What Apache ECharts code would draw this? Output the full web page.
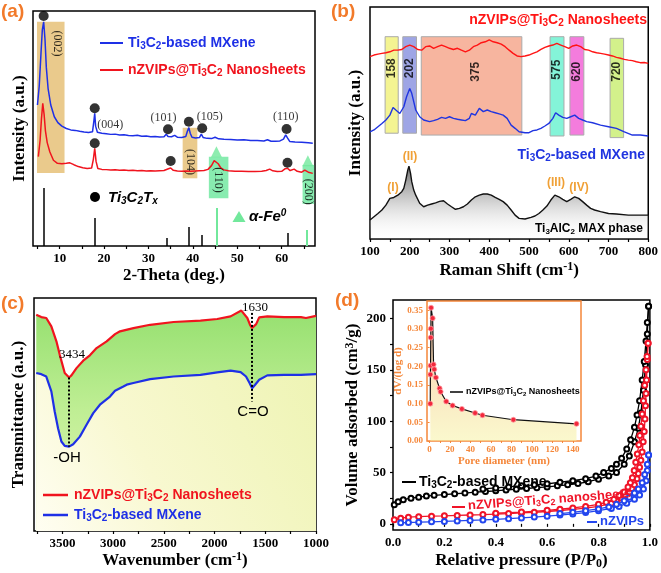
<!DOCTYPE html>
<html><head><meta charset="utf-8">
<script src="https://cdn.jsdelivr.net/npm/echarts/dist/echarts.min.js"></script>
<style>html,body{margin:0;padding:0;background:#fff}#c{width:661px;height:573px}</style>
</head><body><div id="c"></div>
<script>
// ---------------- DATA ----------------
// (a) XRD
const xrdMxene=[[5.0,60],[5.4,68],[5.8,82],[6.1,92],[6.4,95.4],[6.7,88],[7.0,76],[7.4,67],[8.0,60],[8.8,55],[9.6,52.5],[10.5,51],[11.5,50],[12.5,49.4],[13.5,49.2],[14.5,48.8],[15.5,48.5],[16.5,48.3],[17.4,48.6],[17.7,53],[17.9,56.5],[18.1,51],[18.5,48.4],[19.5,48],[20.5,47.8],[21.5,47.5],[22.5,47.6],[23.5,47.2],[24.5,47.3],[25.5,47],[26.5,46.9],[27.5,47.1],[28.5,46.7],[29.5,46.8],[30.5,46.5],[31.5,46.6],[32.5,46.4],[33.5,46.5],[34.0,47.6],[34.4,46.6],[35.2,46.5],[35.9,47.1],[36.5,46.3],[37.5,46.2],[38.4,46.6],[38.8,49],[39.1,50.4],[39.4,48],[39.8,46.3],[40.6,46],[41.5,46.2],[41.9,47.6],[42.3,46.2],[43.2,45.8],[44.2,45.7],[45.0,46.3],[45.8,45.6],[47,45.4],[48.5,45.3],[50,45.1],[51.5,45.2],[53,44.9],[54.5,44.9],[56,44.7],[56.8,45.2],[57.6,44.6],[58.6,44.6],[59.6,44.7],[60.4,45.5],[60.9,47.3],[61.3,46],[61.8,44.5],[63,44.3],[64.5,44.1],[66,43.9],[67,43.7]];
const xrdNano=[[5.2,38],[5.6,45],[5.9,54],[6.2,60.7],[6.5,56],[6.8,49],[7.2,44],[7.8,40],[8.6,36.5],[9.5,35.2],[10.5,35],[11.5,35.2],[12.3,35.4],[13.2,34.6],[14.2,33.8],[15.2,33.3],[16.2,33],[17.2,33.2],[17.6,37],[17.9,41.6],[18.2,36],[18.6,33],[19.5,32.6],[20.5,32.5],[21.5,32.3],[22.5,32.4],[23.5,32.2],[24.5,32.3],[25.5,32.1],[26.5,32.2],[27.5,32],[28.5,32.1],[29.5,31.9],[30.5,32],[31.5,31.9],[32.5,32],[33.5,32.1],[34.5,32.9],[35.0,33.2],[35.6,32.2],[36.5,31.9],[37.5,31.8],[38.5,31.9],[39.5,31.8],[40.5,31.9],[41.5,32],[42.5,32.1],[43.4,32.6],[44.2,34.2],[44.8,36.3],[45.2,36.6],[45.7,35],[46.3,33.2],[47,32.4],[48,32],[49.5,31.8],[51,31.8],[52.5,31.7],[54,31.7],[55.5,31.8],[56.5,32.1],[57.3,32.7],[58,32],[59,31.7],[60,31.8],[60.8,32.9],[61.3,33.1],[61.9,32.1],[62.8,32.7],[63.5,31.8],[64.5,31.4],[65.2,32.3],[65.6,33],[66,31.4],[67,30.9]];
const refTi3C2=[[6.5,24.7],[17.9,11.9],[34.2,3.4],[39.0,8.1],[42.0,4.7],[61.3,5.5]];
const refFe=[[45.3,16.2],[65.7,6.8]];
const ti3c2Markers=[[6.4,97.9],[17.9,58.6],[34.4,49.7],[39.1,52.9],[42.1,50.1],[61.1,49.8],[17.9,43.7],[35.0,36.2],[61.3,35.4]];
const feMarkers=[[45.3,40.1],[65.9,36.3]];
const xrdTanBoxes=[[4.9,11.1,31.1,95.4],[37.7,41.0,28.8,50.3]];
const xrdGreenBoxes=[[43.6,48.0,20.3,38.0],[64.7,67.3,17.9,34.5]];
const xrdLabelsH=[[21.4,51.5,'(004)'],[33.4,54.5,'(101)'],[43.8,54.9,'(105)'],[60.9,54.9,'(110)']];
const xrdLabelsV=[[9.4,86.2,'(002)'],[39.3,35.7,'(104)'],[45.7,28.1,'(110)'],[65.9,23.1,'(200)']];
const xrdTicks=[5,10,15,20,25,30,35,40,45,50,55,60,65];
const xrdTickLabels=[10,20,30,40,50,60];

// (b) Raman
const ramanNano=[[100,78.6],[110,79.3],[120,79.7],[130,80.0],[140,80.3],[150,80.7],[160,81.4],[170,81.4],[180,81.7],[190,82.9],[200,83.6],[210,82.9],[220,81.7],[230,81.4],[240,82.9],[250,83.2],[260,82.2],[270,82.9],[280,83.6],[290,82.9],[300,82.2],[310,81.7],[320,82.2],[330,81.4],[340,80.7],[350,81.4],[360,82.9],[370,83.6],[380,84.6],[390,85.0],[400,85.8],[410,85.0],[420,84.6],[430,84.0],[440,82.9],[450,81.4],[460,80.0],[470,78.9],[480,78.6],[490,78.9],[500,79.3],[510,80.0],[520,80.7],[530,81.7],[540,82.6],[550,83.2],[560,83.6],[570,84.3],[580,83.6],[590,82.9],[600,82.2],[610,83.2],[620,83.6],[630,82.9],[640,81.7],[650,81.4],[660,80.7],[670,80.3],[680,80.0],[690,79.7],[700,79.3],[710,78.9],[720,78.3],[730,77.9],[740,77.4],[750,77.1],[760,76.9],[770,76.4],[780,76.0],[790,76.1],[800,75.7]];
const ramanMxene=[[100,46.2],[110,47.0],[120,48.4],[130,49.8],[140,51.3],[150,53.4],[158,56.7],[165,55.6],[175,54.1],[185,57.0],[192,61.3],[200,64.9],[205,62.8],[210,59.2],[215,55.6],[225,52.7],[235,51.3],[250,50.6],[260,51.0],[270,51.6],[280,52.4],[290,52.0],[300,52.7],[310,52.0],[320,51.6],[330,51.3],[340,51.0],[350,52.0],[355,54.1],[365,53.4],[375,56.3],[385,54.9],[395,55.6],[405,54.9],[415,54.4],[425,53.9],[435,53.4],[445,52.0],[455,49.1],[465,47.7],[475,46.2],[490,45.8],[500,45.8],[510,46.7],[520,47.0],[530,47.7],[540,48.7],[550,49.8],[560,52.0],[567,54.4],[575,53.4],[585,52.4],[595,52.0],[605,52.7],[615,53.4],[625,52.0],[635,51.3],[645,50.6],[660,50.1],[680,49.1],[700,48.4],[720,47.7],[740,46.2],[760,44.8],[780,44.8],[800,44.4]];
const ramanMax=[[100,8.2],[105,8.9],[110,9.6],[120,11.0],[130,12.5],[140,14.6],[150,17.5],[155,18.2],[160,17.9],[170,18.9],[180,20.4],[185,21.8],[190,25.4],[195,29.7],[198,31.4],[202,28.3],[205,24.7],[210,21.1],[215,18.9],[225,15.4],[235,13.9],[245,14.6],[255,15.1],[265,15.6],[275,16.2],[285,16.5],[295,15.1],[305,13.9],[315,12.8],[325,13.2],[335,13.9],[345,15.1],[355,16.8],[365,18.2],[375,18.9],[385,19.4],[395,19.4],[405,18.9],[415,17.9],[425,17.1],[435,16.1],[445,14.6],[455,12.5],[465,10.3],[475,8.9],[490,8.6],[505,9.3],[515,9.9],[525,11.0],[535,12.5],[545,14.2],[555,16.8],[565,18.9],[575,18.2],[585,17.1],[595,16.1],[605,17.1],[615,18.2],[625,17.5],[635,16.1],[645,14.6],[655,13.2],[665,12.5],[680,11.8],[700,11.0],[720,10.8],[750,10.3],[780,10.3],[800,10.3]];
const ramanBands=['158','202','375','575','620','720'];
const ramanBandX=[[138,171],[182.5,217],[229,482],[553,588],[603,638],[704,738]];
const ramanBandY=[[45.6,87.2],[45.6,87.2],[44.8,87.2],[44.4,87.2],[44.8,87.2],[43.7,86.5]];
const ramanBandLabelPos=[[154.5,73.6],[199.7,73.6],[366,72.1],[570.4,73],[620.4,72.1],[720.8,72.1]];
const ramanTicks=[100,150,200,250,300,350,400,450,500,550,600,650,700,750,800];
const ramanTickLabels=[100,200,300,400,500,600,700,800];

// (c) FTIR
const ftirNano=[[3758,92.8],[3708,91.8],[3659,91.4],[3609,87.8],[3559,81.4],[3526,75.6],[3477,67.8],[3434,65.9],[3411,66.8],[3361,69.9],[3295,73.1],[3229,75.4],[3163,78.5],[3064,81.4],[2981,84.5],[2932,85.7],[2800,87.1],[2635,88.5],[2404,89.7],[2139,90.3],[1974,91.0],[1842,92.1],[1736,94.6],[1677,91.4],[1650,88.5],[1630,87.1],[1590,88.8],[1560,91.7],[1479,92.1],[1314,91.8],[1149,91.8],[1099,91.4],[1000,92.3]];
const ftirMxene=[[3758,67.8],[3708,67.3],[3659,66.3],[3609,59.9],[3576,51.3],[3543,44.1],[3510,38.4],[3477,36.5],[3434,36.2],[3394,37.2],[3328,40.5],[3262,45.6],[3196,50.6],[3130,54.2],[3031,57.7],[2981,60.2],[2899,62.0],[2866,62.8],[2850,62.0],[2800,63.5],[2635,65.2],[2404,66.3],[2139,67.0],[1974,68.1],[1842,68.8],[1743,68.2],[1690,66.3],[1655,63.5],[1630,61.3],[1600,62.8],[1560,64.9],[1480,66.8],[1314,67.0],[1149,67.0],[1000,67.3]];
const ftirGuides=[[3434,65.9,36.2],[1630,93.6,55.6]];
const ftirTicks=[1000,1250,1500,1750,2000,2250,2500,2750,3000,3250,3500,3750];
const ftirTickLabels=[1000,1500,2000,2500,3000,3500];

// (d) N2 isotherms
const betMxeneAds=[[0.005,18.5],[0.02,21.5],[0.04,23.5],[0.07,25],[0.1,26],[0.13,27],[0.16,27.8],[0.2,28.5],[0.24,29.3],[0.28,30],[0.32,30.8],[0.36,31.5],[0.4,32.2],[0.44,33],[0.48,33.7],[0.52,34.4],[0.56,35.2],[0.6,36],[0.64,37],[0.68,38],[0.72,39.2],[0.76,41],[0.8,43.5],[0.84,46.5],[0.87,50],[0.9,58],[0.92,66],[0.94,80],[0.955,93],[0.965,108],[0.975,130],[0.983,155],[0.99,185],[0.995,212]];
const betMxeneDes=[[0.995,212],[0.99,196],[0.985,178],[0.978,158],[0.97,140],[0.96,120],[0.95,106],[0.94,94],[0.925,82],[0.91,73],[0.89,64],[0.87,58],[0.85,54],[0.82,50],[0.79,46.5],[0.75,44],[0.7,42],[0.65,40.5],[0.6,39],[0.55,38],[0.5,37],[0.45,36],[0.4,35],[0.35,34]];
const betNanoAds=[[0.005,4],[0.03,5.5],[0.06,6.5],[0.1,7],[0.15,7.5],[0.2,7.8],[0.25,8.2],[0.3,8.6],[0.35,9],[0.4,9.5],[0.45,10],[0.5,10.6],[0.55,11.3],[0.6,12],[0.65,13],[0.7,14],[0.75,15.3],[0.8,17],[0.85,20],[0.87,22.3],[0.89,25],[0.905,28],[0.92,31],[0.93,34.5],[0.94,38],[0.95,44],[0.955,49],[0.96,55],[0.965,62],[0.97,70],[0.974,80],[0.978,90],[0.981,102],[0.983,115],[0.985,127],[0.987,140],[0.99,160],[0.993,176]];
const betNanoDes=[[0.993,176],[0.989,163],[0.985,150],[0.98,135],[0.975,120],[0.97,107],[0.965,95],[0.961,86],[0.957,77],[0.951,68],[0.945,60],[0.939,52],[0.932,45],[0.924,40],[0.915,36],[0.9,31],[0.88,27.5],[0.86,24],[0.83,21],[0.8,19],[0.75,17],[0.7,15.5],[0.65,14.2],[0.6,13.2],[0.5,11.5],[0.4,10.3]];
const betZviAds=[[0.03,1],[0.06,1.3],[0.1,1.6],[0.15,2],[0.2,2.4],[0.25,2.8],[0.3,3.3],[0.35,3.8],[0.4,4.4],[0.45,5],[0.5,5.8],[0.55,6.6],[0.6,7.5],[0.65,8.5],[0.7,9.7],[0.75,11],[0.8,12.8],[0.85,15],[0.88,17],[0.91,20],[0.94,24],[0.96,28],[0.975,34],[0.985,42],[0.99,52],[0.995,67]];
const betZviDes=[[0.995,67],[0.99,58],[0.98,48],[0.97,40],[0.955,34],[0.94,30],[0.92,26],[0.9,22.5],[0.87,19],[0.84,16.5],[0.8,14.5],[0.75,12.8],[0.7,11.2],[0.65,10]];
const betXTicks=[0,0.1,0.2,0.3,0.4,0.5,0.6,0.7,0.8,0.9,1.0];
const betXTickLabels=[0,0.2,0.4,0.6,0.8,1.0];
const betYTicks=[0,25,50,75,100,125,150,175,200];
const betYTickLabels=[0,50,100,150,200];
// inset pore size distribution
const psd=[[0.7,0.100],[0.8,0.178],[1.0,0.202],[1.2,0.277],[1.3,0.301],[1.5,0.357],[3.0,0.329],[3.9,0.205],[4.6,0.192],[6.2,0.170],[9.8,0.141],[10.8,0.132],[16.3,0.106],[22.5,0.095],[31.6,0.086],[44.5,0.075],[51.7,0.069],[81.9,0.057],[143.6,0.046]];
const psdXTicks=[0,10,20,30,40,50,60,70,80,90,100,110,120,130,140];
const psdXTickLabels=[0,20,40,60,80,100,120,140];
const psdYTicks=[0,0.05,0.1,0.15,0.2,0.25,0.3,0.35];

// ---------------- STYLE ----------------
const SERIF='"Liberation Serif","Times New Roman",serif';
const SANS='"Liberation Sans",Arial,Helvetica,sans-serif';
const RED='#f0141e', BLUE='#1e30e6', ORANGE='#f27a2a', GREEN='#72e89c', IORANGE='#f5873a';
const T_MX='Ti{s|3}C{s|2}-based MXene';
const T_NANO='nZVIPs@Ti{s|3}C{s|2} Nanosheets';

const chart=echarts.init(document.getElementById('c'),null,{renderer:'canvas',width:661,height:573});

function rich(size,color,family,weight,style){
  const base={fontSize:size,lineHeight:size+2,fontFamily:family,fontWeight:weight||'bold',fontStyle:style||'normal',color:color,fill:color};
  const s=Math.round(size*0.68);
  return {
    s:Object.assign({},base,{fontSize:s,lineHeight:Math.max(4,size+2-8),verticalAlign:'bottom'}),
    p:Object.assign({},base,{fontSize:s,lineHeight:Math.max(4,size+2-8),verticalAlign:'top'})
  };
}
function gtext(x,y,text,size,color,opt){
  opt=opt||{};
  const fam=opt.family||SANS, w=opt.weight||'bold', st=opt.style||'normal';
  return {type:'text',x:x,y:y,rotation:opt.rotation||0,z:100,silent:true,style:{
    text:text,fill:color,fontSize:size,fontFamily:fam,fontWeight:w,fontStyle:st,lineHeight:size+2,
    align:opt.align||'left',verticalAlign:opt.va||'middle',textAlign:opt.align||'left',textVerticalAlign:opt.va||'middle',
    rich:rich(size,color,fam,w,st)}};
}
function gline(x1,y1,x2,y2,color,w){
  return {type:'line',z:100,silent:true,shape:{x1:x1,y1:y1,x2:x2,y2:y2},style:{stroke:color,lineWidth:w||2}};
}
const nameStyle=(size)=>({fontSize:size,fontWeight:'bold',fontFamily:SERIF,color:'#000',lineHeight:size+2,
  rich:rich(size,'#000',SERIF,'bold')});
function xAx(gi,min,max,ticks,labels,fmt,name,gap,extra){
  return Object.assign({gridIndex:gi,type:'value',min:min,max:max,splitLine:{show:false},
    axisLine:{show:false},
    axisTick:{show:true,inside:false,length:3,customValues:ticks,lineStyle:{color:'#000',width:1.2}},
    axisLabel:{show:true,customValues:labels,formatter:fmt,margin:6,color:'#000',fontFamily:SERIF,fontWeight:'bold',fontSize:13},
    name:name,nameLocation:'middle',nameGap:gap,nameTextStyle:nameStyle(17)},extra||{});
}
function yBlank(gi,name,gap){
  return {gridIndex:gi,type:'value',min:0,max:100,splitLine:{show:false},axisLine:{show:false},axisTick:{show:false},axisLabel:{show:false},
    name:name,nameLocation:'middle',nameGap:gap,nameRotate:90,nameTextStyle:nameStyle(17)};
}
const fmtInt=v=>String(v);
const lineS=(xi,data,color,w,extra)=>Object.assign({type:'line',xAxisIndex:xi,yAxisIndex:xi,data:data,symbol:'none',
  lineStyle:{color:color,width:w},itemStyle:{color:color},z:3,silent:true},extra||{});
const labelS=(xi,data,rot,size,color,family,weight)=>({type:'scatter',xAxisIndex:xi,yAxisIndex:xi,data:data,symbolSize:1,
  itemStyle:{color:'transparent'},silent:true,z:6,
  label:{show:true,position:'inside',rotate:rot,formatter:p=>p.data[2],fontSize:size,color:color,fontFamily:family,fontWeight:weight}});

const option={
  animation:false,
  backgroundColor:'#fff',
  grid:[
    {left:33,top:11,width:282,height:235,show:true,borderColor:'#000',borderWidth:1.5,backgroundColor:'transparent'},
    {left:370,top:7,width:280,height:232,show:true,borderColor:'#000',borderWidth:1.5,backgroundColor:'transparent'},
    {left:34,top:298,width:282,height:233,show:true,borderColor:'#000',borderWidth:1.5,backgroundColor:'transparent'},
    {left:393,top:300,width:260,height:230,show:true,borderColor:'#000',borderWidth:1.5,backgroundColor:'transparent'},
    {left:427,top:301,width:154,height:140,show:true,borderColor:IORANGE,borderWidth:1.5,backgroundColor:'transparent'}
  ],
  xAxis:[
    xAx(0,4,67.5,xrdTicks,xrdTickLabels,fmtInt,'2-Theta (deg.)',20),
    xAx(1,100,800,ramanTicks,ramanTickLabels,fmtInt,'Raman Shift (cm{p|-1})',22),
    xAx(2,1000,3780,ftirTicks,ftirTickLabels,fmtInt,'Wavenumber (cm{p|-1})',20,{inverse:true}),
    xAx(3,0,1,betXTicks,betXTickLabels,v=>Number(v).toFixed(1),'Relative pressure (P/P{s|0})',21),
    {gridIndex:4,type:'value',min:-2.5,max:148,splitLine:{show:false},axisLine:{show:false},
     axisTick:{show:true,length:2,customValues:psdXTicks,lineStyle:{color:IORANGE,width:1}},
     axisLabel:{show:true,customValues:psdXTickLabels,formatter:fmtInt,margin:4,color:IORANGE,fontFamily:SERIF,fontWeight:'bold',fontSize:9},
     name:'Pore diameter (nm)',nameLocation:'middle',nameGap:15,
     nameTextStyle:{fontSize:11,fontWeight:'bold',fontFamily:SERIF,color:IORANGE}}
  ],
  yAxis:[
    yBlank(0,'Intensity (a.u.)',4),
    yBlank(1,'Intensity (a.u.)',5),
    yBlank(2,'Transmittance (a.u.)',6),
    {gridIndex:3,type:'value',min:-6,max:218,splitLine:{show:false},axisLine:{show:false},
     axisTick:{show:true,length:3,customValues:betYTicks,lineStyle:{color:'#000',width:1.2}},
     axisLabel:{show:true,customValues:betYTickLabels,formatter:fmtInt,margin:7,color:'#000',fontFamily:SERIF,fontWeight:'bold',fontSize:13},
     name:'Volume adsorbed (cm{p|3}/g)',nameLocation:'middle',nameGap:24,nameRotate:90,nameTextStyle:nameStyle(17)},
    {gridIndex:4,type:'value',min:0,max:0.375,splitLine:{show:false},axisLine:{show:false},
     axisTick:{show:true,length:2,customValues:psdYTicks,lineStyle:{color:IORANGE,width:1}},
     axisLabel:{show:true,customValues:psdYTicks,formatter:v=>Number(v).toFixed(2),margin:4,color:IORANGE,fontFamily:SERIF,fontWeight:'bold',fontSize:9},
     name:'dV/(log d)',nameLocation:'middle',nameGap:21,nameRotate:90,
     nameTextStyle:{fontSize:11,fontWeight:'bold',fontFamily:SERIF,color:IORANGE}}
  ],
  series:[
    // ---- (a)
    {type:'line',xAxisIndex:0,yAxisIndex:0,data:[],z:1,silent:true,
     markArea:{silent:true,itemStyle:{color:'rgba(226,182,96,0.72)'},label:{show:false},
       data:xrdTanBoxes.map(b=>[{xAxis:b[0],yAxis:b[2]},{xAxis:b[1],yAxis:b[3]}])}},
    {type:'line',xAxisIndex:0,yAxisIndex:0,data:[],z:1,silent:true,
     markArea:{silent:true,itemStyle:{color:'rgba(96,230,150,0.75)'},label:{show:false},
       data:xrdGreenBoxes.map(b=>[{xAxis:b[0],yAxis:b[2]},{xAxis:b[1],yAxis:b[3]}])}},
    {type:'line',xAxisIndex:0,yAxisIndex:0,data:[],z:2,silent:true,
     markLine:{silent:true,symbol:['none','none'],label:{show:false},lineStyle:{color:'#000',width:1.5,type:'solid'},
       data:refTi3C2.map(r=>[{coord:[r[0],0]},{coord:[r[0],r[1]]}])}},
    {type:'line',xAxisIndex:0,yAxisIndex:0,data:[],z:2,silent:true,
     markLine:{silent:true,symbol:['none','none'],label:{show:false},lineStyle:{color:GREEN,width:2,type:'solid'},
       data:refFe.map(r=>[{coord:[r[0],0]},{coord:[r[0],r[1]]}])}},
    lineS(0,xrdMxene,BLUE,1.5),
    lineS(0,xrdNano,RED,1.5),
    {type:'scatter',xAxisIndex:0,yAxisIndex:0,data:ti3c2Markers,symbol:'circle',symbolSize:10,itemStyle:{color:'#000'},z:5,silent:true},
    {type:'scatter',xAxisIndex:0,yAxisIndex:0,data:feMarkers,symbol:'triangle',symbolSize:11,itemStyle:{color:GREEN},z:5,silent:true},
    labelS(0,xrdLabelsH,0,12,'#000',SERIF,'normal'),
    labelS(0,xrdLabelsV,-90,12,'#000',SERIF,'normal'),
    // ---- (b)
    {type:'line',xAxisIndex:1,yAxisIndex:1,data:[],z:1,silent:true,
     markArea:{silent:true,label:{show:false},
       data:ramanBandX.map((b,i)=>[{xAxis:b[0],yAxis:ramanBandY[i][0],itemStyle:{
         color:['rgba(240,240,110,0.75)','rgba(125,135,220,0.75)','rgba(244,150,118,0.7)','rgba(80,240,200,0.7)','rgba(240,80,210,0.75)','rgba(196,236,100,0.75)'][i],
         borderColor:'#aaa',borderWidth:1}},{xAxis:b[1],yAxis:ramanBandY[i][1]}])}},
    lineS(1,ramanNano,'#ff1414',1.4),
    lineS(1,ramanMxene,'#2035e0',1.4),
    lineS(1,ramanMax,'#111',1.4,{areaStyle:{origin:'start',color:new echarts.graphic.LinearGradient(0,0,0,1,[
      {offset:0,color:'rgba(40,40,40,0.95)'},{offset:0.45,color:'rgba(150,150,150,0.7)'},{offset:1,color:'rgba(255,255,255,0.1)'}])}}),
    labelS(1,ramanBandLabelPos.map((p,i)=>[p[0],p[1],ramanBands[i]]),90,12,'#000',SANS,'bold'),
    // ---- (c)
    lineS(2,ftirNano,RED,2.2,{z:3,areaStyle:{origin:'start',opacity:1,color:new echarts.graphic.LinearGradient(0,0,0,1,[
      {offset:0,color:'#96e070'},{offset:0.45,color:'#bfee94'},{offset:1,color:'#e6f7b8'}])}}),
    lineS(2,ftirMxene,BLUE,2.2,{z:4,areaStyle:{origin:'start',opacity:1,color:new echarts.graphic.LinearGradient(1,0,0,1,[
      {offset:0,color:'#eef4b4'},{offset:0.6,color:'#f8f8d0'},{offset:1,color:'#fffef2'}])}}),
    {type:'line',xAxisIndex:2,yAxisIndex:2,data:[],z:6,silent:true,
     markLine:{silent:true,symbol:['none','none'],label:{show:false},lineStyle:{color:'#000',width:2,type:'dotted'},
       data:ftirGuides.map(g=>[{coord:[g[0],g[1]]},{coord:[g[0],g[2]]}])}},
    // ---- (d)
    lineS(3,betMxeneAds,'#000',1.3,{symbol:'emptyCircle',symbolSize:5,showSymbol:true,itemStyle:{color:'#000',borderWidth:1.2}}),
    lineS(3,betMxeneDes,'#000',1.3,{symbol:'emptyCircle',symbolSize:5,showSymbol:true,itemStyle:{color:'#000',borderWidth:1.2}}),
    lineS(3,betNanoAds,'#f01428',1.3,{symbol:'emptyCircle',symbolSize:5,showSymbol:true,itemStyle:{color:'#f01428',borderWidth:1.2}}),
    lineS(3,betNanoDes,'#f01428',1.3,{symbol:'emptyCircle',symbolSize:5,showSymbol:true,itemStyle:{color:'#f01428',borderWidth:1.2}}),
    lineS(3,betZviAds,'#2346ee',1.3,{symbol:'emptyCircle',symbolSize:5,showSymbol:true,itemStyle:{color:'#2346ee',borderWidth:1.2}}),
    lineS(3,betZviDes,'#2346ee',1.3,{symbol:'emptyCircle',symbolSize:5,showSymbol:true,itemStyle:{color:'#2346ee',borderWidth:1.2}}),
    // inset
    lineS(4,psd,'#111',1.2,{symbol:'circle',symbolSize:5,showSymbol:true,z:5,itemStyle:{color:'#f2283c',borderColor:'#ff9aa0',borderWidth:0.8},
      areaStyle:{origin:'start',color:new echarts.graphic.LinearGradient(0,0,0,1,[
        {offset:0,color:'rgba(244,150,100,0.85)'},{offset:0.5,color:'rgba(245,205,140,0.8)'},{offset:1,color:'rgba(246,242,160,0.75)'}])}})
  ],
  graphic:[
    gtext(1,1,'(a)',19,ORANGE,{va:'top'}),
    gline(100,43,123,43,BLUE,2),
    gtext(128,43,T_MX,14,BLUE),
    gline(100,70,123,70,RED,2),
    gtext(128,70,T_NANO,14,RED),
    {type:'circle',z:100,silent:true,shape:{cx:95,cy:197,r:5},style:{fill:'#000'}},
    gtext(108,198,'Ti{s|3}C{s|2}T{s|x}',15,'#000',{style:'italic'}),
    {type:'polygon',z:100,silent:true,shape:{points:[[239,211],[245.5,222],[232.5,222]]},style:{fill:GREEN}},
    gtext(249,217,'α-Fe{p|0}',15,'#000',{style:'italic'}),

    gtext(331,1,'(b)',19,ORANGE,{va:'top'}),
    gtext(647,20,T_NANO,14,'#ff1414',{align:'right'}),
    gtext(645,155,T_MX,14,'#2035e0',{align:'right'}),
    gtext(643,229,'Ti{s|3}AlC{s|2} MAX phase',12,'#000',{align:'right'}),
    gtext(393,188,'(I)',12,'#f0a035',{align:'center'}),
    gtext(410,157,'(II)',12,'#f0a035',{align:'center'}),
    gtext(556,183,'(III)',12,'#f0a035',{align:'center'}),
    gtext(579,188,'(IV)',12,'#f0a035',{align:'center'}),

    gtext(1,293,'(c)',19,ORANGE,{va:'top'}),
    gline(43,495,68,495,RED,2.5),
    gtext(74,495,T_NANO,14,RED),
    gline(43,515,68,515,BLUE,2.5),
    gtext(74,515,T_MX,14,BLUE),
    gtext(72,355,'3434',13,'#000',{align:'center',family:SERIF,weight:'normal'}),
    gtext(255,308,'1630',13,'#000',{align:'center',family:SERIF,weight:'normal'}),
    gtext(67,458,'-OH',15,'#000',{align:'center',weight:'normal'}),
    gtext(253,412,'C=O',15,'#000',{align:'center',weight:'normal'}),

    gtext(335,290,'(d)',19,ORANGE,{va:'top'}),
    gline(402,482,416,482,'#000',2),
    gtext(419,482,T_MX,14,'#000'),
    gline(452,507,465,507,'#f01428',2),
    gtext(468,506,'nZVIPs@Ti{s|3}C{s|2} nanosheets',13,'#f01428',{rotation:0.075}),
    gline(587,522,597,522,'#2346ee',2),
    gtext(600,521,'nZVIPs',13,'#2346ee'),
    gline(450,392,463,392,'#000',1.5),
    gtext(466,392,T_NANO,9,'#000')
  ]
};
chart.setOption(option);
</script></body></html>
